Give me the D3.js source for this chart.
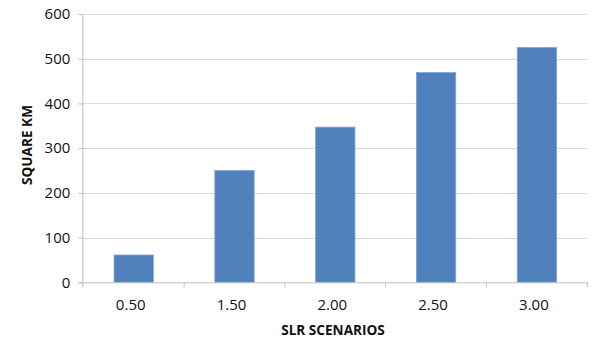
<!DOCTYPE html>
<html><head><meta charset="utf-8">
<script src="https://cdn.jsdelivr.net/npm/d3@7"></script>
<style>body{margin:0;background:#fff}svg{display:block}</style>
</head><body>
<svg id="c" width="600" height="348"></svg>
<script>
const categories = ["0.50","1.50","2.00","2.50","3.00"];
const values = [61, 250, 347, 469, 525];
const yTicks = [0,100,200,300,400,500,600];
const xTitle = "SLR SCENARIOS";
const yTitle = "SQUARE KM";

const svg = d3.select("#c");
const L = 83.3, R = 587.3, T = 14, B = 282.3;
const x = d3.scaleBand().domain(categories).range([L, R]).padding(0);
const y = d3.scaleLinear().domain([0, 600]).range([B, T]);
const font = "'Open Sans', 'Liberation Sans', sans-serif";

// gridlines
svg.append("g").selectAll("line").data(yTicks.filter(d => d > 0)).join("line")
  .attr("x1", L).attr("x2", R).attr("y1", d => Math.round(y(d)) + 0.5).attr("y2", d => Math.round(y(d)) + 0.5)
  .attr("stroke", "#d9d9d9").attr("stroke-width", 1.2);

// bars
const bw = x.bandwidth() * 0.39;
svg.append("g").selectAll("rect").data(values).join("rect")
  .attr("x", (d, i) => x(categories[i]) + (x.bandwidth() - bw) / 2)
  .attr("width", bw)
  .attr("y", d => y(d))
  .attr("height", d => y(0) - y(d))
  .attr("fill", "#4f81bd").attr("stroke", "#7ea3cf").attr("stroke-width", 0.8);

// y axis
const yAxis = d3.axisLeft(y).tickValues(yTicks).tickSize(5).tickPadding(8);
const gy = svg.append("g").attr("transform", `translate(${L},0)`).call(yAxis);
gy.select(".domain").attr("stroke", "#bfbfbf").attr("d", `M-0.5,${B}V${T}`);
gy.selectAll(".tick line").attr("stroke", "#bfbfbf");
gy.selectAll("text").attr("font-family", font).attr("font-size", 15).attr("fill", "#111");

// x axis
const xAxis = d3.axisBottom(x).tickSize(0).tickPadding(17);
const gx = svg.append("g").attr("transform", `translate(0,${B})`).call(xAxis);
gx.select(".domain").attr("stroke", "#bfbfbf").attr("d", `M${L - 5},0.5H${R}`);
gx.selectAll(".tick line").remove();
gx.selectAll("text").attr("font-family", font).attr("font-size", 15).attr("fill", "#111").attr("dx", -3);
// category boundary ticks
gx.append("g").selectAll("line").data(categories).join("line")
  .attr("x1", d => x(d) + x.bandwidth()).attr("x2", d => x(d) + x.bandwidth())
  .attr("y1", 0).attr("y2", 5).attr("stroke", "#bfbfbf");
gx.append("line").attr("x1", L - 0.5).attr("x2", L - 0.5).attr("y1", 0).attr("y2", 5).attr("stroke", "#bfbfbf");

// titles
svg.append("text").attr("x", 333).attr("y", 335).attr("text-anchor", "middle")
  .attr("font-family", font).attr("font-weight", "bold").attr("font-size", 13.6).attr("fill", "#111").text(xTitle);
svg.append("text").attr("transform", "translate(32,145) rotate(-90)").attr("text-anchor", "middle")
  .attr("font-family", font).attr("font-weight", "bold").attr("font-size", 13.6).attr("fill", "#111").text(yTitle);
</script>
</body></html>
